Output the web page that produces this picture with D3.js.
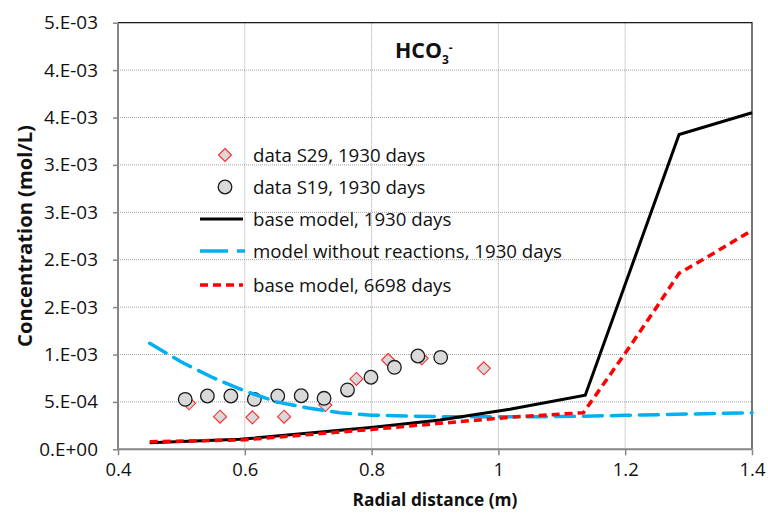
<!DOCTYPE html>
<html><head><meta charset="utf-8">
<script src="https://cdn.jsdelivr.net/npm/d3@7"></script>
<style>body{margin:0;background:#fff}svg{display:block;font-family:"Open Sans",Lato,sans-serif}</style>
</head><body><svg id="c" width="768" height="516"></svg>
<script>
const s29X=[0.512,0.561,0.612,0.662,0.727,0.776,0.826,0.879,0.977];
const s29Y=[4.85e-4,3.44e-4,3.37e-4,3.44e-4,4.67e-4,7.42e-4,9.42e-4,9.6e-4,8.54e-4];
const s19X=[0.506,0.541,0.578,0.615,0.652,0.689,0.725,0.762,0.799,0.836,0.873,0.909];
const s19Y=[5.27e-4,5.62e-4,5.62e-4,5.27e-4,5.62e-4,5.65e-4,5.38e-4,6.26e-4,7.6e-4,8.65e-4,9.84e-4,9.7e-4];
const base1930X=[0.45,0.592,0.803,0.908,1.018,1.137,1.285,1.4];
const base1930Y=[7e-5,1.05e-4,2.32e-4,3.09e-4,4.22e-4,5.70e-4,3.32e-3,3.55e-3];
const noReactX=[0.45,0.5,0.55,0.6,0.65,0.7,0.75,0.8,0.9,1.0,1.1,1.2,1.3,1.4];
const noReactY=[1.118e-3,9.2e-4,7.55e-4,6.15e-4,5.0e-4,4.35e-4,3.85e-4,3.6e-4,3.45e-4,3.42e-4,3.45e-4,3.58e-4,3.72e-4,3.85e-4];
const base6698X=[0.45,0.6,0.8,0.908,1.018,1.134,1.2,1.25,1.285,1.33,1.4];
const base6698Y=[8e-5,1.0e-4,2.1e-4,2.74e-4,3.38e-4,3.86e-4,1.013e-3,1.504e-3,1.857e-3,2.03e-3,2.31e-3];
const xTicks=[0.4,0.6,0.8,1.0,1.2,1.4];
const xTickLabels=["0.4","0.6","0.8","1","1.2","1.4"];
const yTicks=[0,5e-4,1e-3,1.5e-3,2e-3,2.5e-3,3e-3,3.5e-3,4e-3,4.5e-3];
const yTickLabels=["0.E+00","5.E-04","1.E-03","2.E-03","2.E-03","3.E-03","3.E-03","4.E-03","4.E-03","5.E-03"];
const legendLabels=["data S29, 1930 days","data S19, 1930 days","base model, 1930 days","model without reactions, 1930 days","base model, 6698 days"];

const svg=d3.select("#c");
const L=118,R=752,T=22.7,B=449.3;
const x=d3.scaleLinear().domain([0.4,1.4]).range([L,R]);
const y=d3.scaleLinear().domain([0,4.5e-3]).range([B,T]);

// fit font size of a text node so that its width equals target
function fitSize(node,target){
  const f0=parseFloat(d3.select(node).attr("font-size"))||16;
  const w=node.getComputedTextLength();
  return w>0?f0*target/w:f0;
}

// gridlines
const g=svg.append("g");
g.selectAll(".hg").data(yTicks.slice(1)).enter().append("line")
 .attr("x1",L).attr("x2",R).attr("y1",d=>y(d)).attr("y2",d=>y(d))
 .attr("stroke","#a0a0a0").attr("stroke-width",1).attr("stroke-dasharray","1,1");
g.selectAll(".vg").data(xTicks.slice(1,-1)).enter().append("line")
 .attr("y1",T).attr("y2",B).attr("x1",d=>x(d)).attr("x2",d=>x(d))
 .attr("stroke","#a0a0a0").attr("stroke-width",1).attr("stroke-dasharray","1,1");
svg.append("path").attr("d",`M${L},${T}H${R}V${B}`).attr("fill","none").attr("stroke","#1a1a1a").attr("stroke-width",1.2);

// axes
const yAxis=d3.axisLeft(y).tickValues(yTicks).tickFormat((d,i)=>yTickLabels[i]).tickSize(5).tickPadding(15);
const xAxis=d3.axisBottom(x).tickValues(xTicks).tickFormat((d,i)=>xTickLabels[i]).tickSize(6).tickPadding(8);
const ya=svg.append("g").attr("transform",`translate(${L},0)`).call(yAxis);
const xa=svg.append("g").attr("transform",`translate(0,${B})`).call(xAxis);
[ya,xa].forEach(a=>{
  a.select(".domain").attr("stroke","#868686").attr("stroke-width",2);
  a.selectAll(".tick line").attr("stroke","#868686").attr("stroke-width",1.5);
  a.selectAll("text").attr("fill","#111").attr("font-size",16).attr("font-family","'Open Sans',sans-serif");
});
ya.select(".domain").attr("d",`M0,${T}V${B}`);
xa.select(".domain").attr("d",`M${L},0H${R}`);
{
  const last=ya.selectAll(".tick text").nodes().pop();
  const fy=fitSize(last,54);
  ya.selectAll(".tick text").attr("font-size",fy);
  const lx=xa.selectAll(".tick text").nodes()[0];
  const fx=fitSize(lx,26);
  xa.selectAll(".tick text").attr("font-size",fx);
}

// markers
const diamond=(cx,cy,r)=>`M${cx},${cy-r}L${cx+r},${cy}L${cx},${cy+r}L${cx-r},${cy}Z`;
svg.append("g").selectAll("path").data(s29X.map((d,i)=>[d,s29Y[i]])).enter().append("path")
 .attr("d",d=>diamond(x(d[0]),y(d[1]),6.5)).attr("fill","#d9d9d9").attr("stroke","#ff2a2a").attr("stroke-width",1.1);
svg.append("g").selectAll("circle").data(s19X.map((d,i)=>[d,s19Y[i]])).enter().append("circle")
 .attr("cx",d=>x(d[0])).attr("cy",d=>y(d[1])).attr("r",6.8).attr("fill","#d9d9d9").attr("stroke","#1a1a1a").attr("stroke-width",1.3);

// lines
const line=d3.line().x(d=>x(d[0])).y(d=>y(d[1]));
const zip=(a,b)=>a.map((d,i)=>[d,b[i]]);
svg.append("path").datum(zip(noReactX,noReactY)).attr("d",line).attr("fill","none")
 .attr("stroke","#00b0f0").attr("stroke-width",3.5).attr("stroke-dasharray","19,9").attr("stroke-linecap","round");
svg.append("path").datum(zip(base1930X,base1930Y)).attr("d",line).attr("fill","none")
 .attr("stroke","#000").attr("stroke-width",3);
svg.append("path").datum(zip(base6698X,base6698Y)).attr("d",line).attr("fill","none")
 .attr("stroke","#ff0000").attr("stroke-width",3.5).attr("stroke-dasharray","8,5");

// legend
const lg=svg.append("g");
const ly=[155,187,219,251,285];
lg.append("path").attr("d",diamond(225,ly[0],6.5)).attr("fill","#d9d9d9").attr("stroke","#ff2a2a").attr("stroke-width",1.1);
lg.append("circle").attr("cx",225).attr("cy",ly[1]).attr("r",6.8).attr("fill","#d9d9d9").attr("stroke","#1a1a1a").attr("stroke-width",1.3);
lg.append("line").attr("x1",200).attr("x2",243).attr("y1",ly[2]).attr("y2",ly[2]).attr("stroke","#000").attr("stroke-width",3);
lg.append("line").attr("x1",200).attr("x2",245).attr("y1",ly[3]).attr("y2",ly[3]).attr("stroke","#00b0f0").attr("stroke-width",3.5).attr("stroke-dasharray","28,9");
lg.append("line").attr("x1",200).attr("x2",243).attr("y1",ly[4]).attr("y2",ly[4]).attr("stroke","#ff0000").attr("stroke-width",3.5).attr("stroke-dasharray","8,5");
const lt=lg.selectAll("text").data(legendLabels).enter().append("text")
 .attr("x",253).attr("y",(d,i)=>ly[i]).attr("dy","0.35em").attr("font-size",17).attr("fill","#111").text(d=>d);
lt.attr("font-size",fitSize(lt.nodes()[3],309));

// title
const t=svg.append("text").attr("x",395).attr("y",58).attr("font-size",18).attr("font-weight","bold").attr("fill","#111");
const t1=t.append("tspan").attr("font-size",18).text("HCO");
t.append("tspan").attr("font-size",12).attr("dy",6).text("3");
t.append("tspan").attr("font-size",12).attr("dy",-12).text("-");
{
  const ts=svg.append("text").attr("font-size",18).attr("font-weight","bold").text("HCO");
  const f=fitSize(ts.node(),47); ts.remove();
  t.attr("font-size",f); t1.attr("font-size",f);
}

// axis titles
const xt=svg.append("text").attr("x",(L+R)/2).attr("y",506).attr("text-anchor","middle").attr("font-size",18).attr("font-weight","bold").attr("fill","#111").text("Radial distance (m)");
xt.attr("font-size",fitSize(xt.node(),165));
const yt=svg.append("text").attr("transform",`translate(32,${(T+B)/2}) rotate(-90)`).attr("text-anchor","middle").attr("font-size",18).attr("font-weight","bold").attr("fill","#111").text("Concentration (mol/L)");
yt.attr("font-size",fitSize(yt.node(),222));
</script></body></html>
